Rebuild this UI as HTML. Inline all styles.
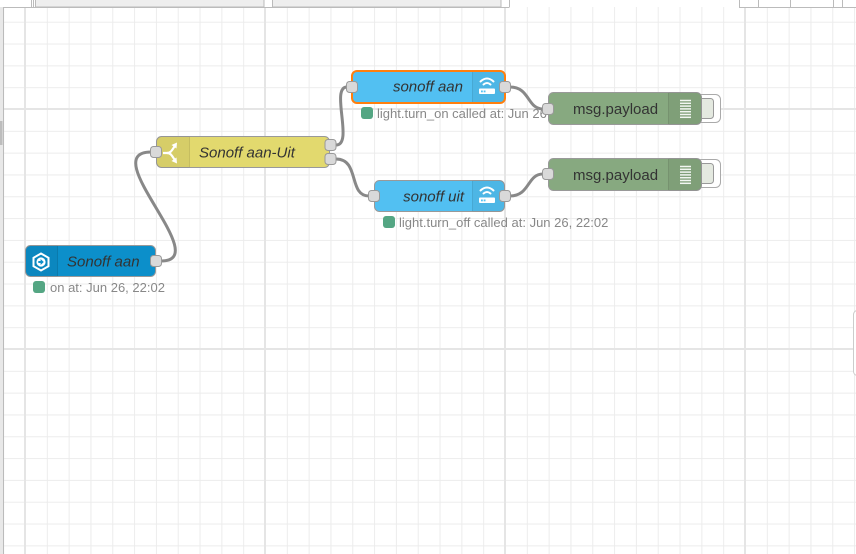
<!DOCTYPE html>
<html><head><meta charset="utf-8"><style>
html,body{margin:0;padding:0;background:#fff;}
svg{display:block;}
text{font-family:"Liberation Sans",sans-serif;}
</style></head><body>
<svg width="856" height="554" viewBox="0 0 856 554" xmlns="http://www.w3.org/2000/svg">
<defs>
<pattern id="minor" x="25" y="109" width="21.818" height="21.818" patternUnits="userSpaceOnUse">
<path d="M0 0.5 H21.818 M0.5 0 V21.818" stroke="#ececec" stroke-width="1" fill="none"/>
</pattern>
<pattern id="major" x="24" y="108" width="240" height="240" patternUnits="userSpaceOnUse">
<path d="M0 1 H240 M1 0 V240" stroke="#e5e5e5" stroke-width="2" fill="none"/>
</pattern>
</defs>
<rect x="0" y="0" width="856" height="554" fill="#fff"/>
<rect x="3" y="7" width="853" height="547" fill="url(#minor)"/>
<rect x="3" y="7" width="853" height="547" fill="url(#major)"/>

<!-- top bar -->
<rect x="0" y="0" width="856" height="7" fill="#fff"/>
<rect x="35.5" y="-1" width="228.5" height="8" fill="#eeeeee" stroke="#bbb"/>
<rect x="272.5" y="-1" width="228.5" height="8" fill="#eeeeee" stroke="#bbb"/>
<line x1="0" y1="7.5" x2="509" y2="7.5" stroke="#bbb"/>
<line x1="31.5" y1="0" x2="31.5" y2="7" stroke="#bbb"/>
<line x1="33.5" y1="0" x2="33.5" y2="7" stroke="#bbb"/>
<line x1="509.5" y1="0" x2="509.5" y2="7.5" stroke="#bbb"/>
<line x1="739" y1="7.5" x2="856" y2="7.5" stroke="#bbb"/>
<line x1="739.5" y1="0" x2="739.5" y2="7.5" stroke="#bbb"/>
<line x1="758.5" y1="0" x2="758.5" y2="7" stroke="#bbb"/>
<line x1="790.5" y1="0" x2="790.5" y2="7" stroke="#bbb"/>
<line x1="833.5" y1="0" x2="833.5" y2="7" stroke="#bbb"/>
<line x1="842.5" y1="0" x2="842.5" y2="7" stroke="#bbb"/>

<!-- left edge -->
<rect x="0" y="7" width="3" height="547" fill="#e8e8e8"/>
<line x1="3.5" y1="7" x2="3.5" y2="554" stroke="#bbb"/>
<rect x="0" y="121" width="2.5" height="24" fill="#bdbdbd"/>

<!-- right edge element -->
<rect x="853.5" y="310.5" width="10" height="65" rx="4" fill="#fff" stroke="#ccc"/>

<!-- wires -->
<g fill="none" stroke="#888" stroke-width="3">
<path d="M 161 261 C 215 261 95 152 151 152"/>
<path d="M 336 145 C 354 145 330 87 347 87"/>
<path d="M 336 159 C 360 159 348 196 369 196"/>
<path d="M 510 87 C 530 87 527 109 543 109"/>
<path d="M 510 196 C 530 196 527 174 543 174"/>
</g>

<!-- status -->
<rect x="33" y="281" width="12" height="12" rx="3" fill="#54a683"/>
<text x="50" y="292" font-size="13" fill="#888">on at: Jun 26, 22:02</text>
<rect x="361" y="107" width="12" height="12" rx="3" fill="#54a683"/>
<text x="377" y="118" font-size="13" fill="#888">light.turn_on called at: Jun 26, 22:02</text>
<rect x="383" y="216" width="12" height="12" rx="3" fill="#54a683"/>
<text x="399" y="227" font-size="13" fill="#888">light.turn_off called at: Jun 26, 22:02</text>

<!-- inject node -->
<rect x="25.5" y="245.5" width="130" height="31" rx="5" fill="#0c8fca" stroke="#999"/>
<path d="M30.5 245.5 H57.5 V276.5 H30.5 A5 5 0 0 1 25.5 271.5 V250.5 A5 5 0 0 1 30.5 245.5 Z" fill="rgba(0,0,0,0.05)"/>
<line x1="57.5" y1="246" x2="57.5" y2="276" stroke="rgba(0,0,0,0.12)"/>
<polygon points="41,253.5 48.5,257.8 48.5,266.2 41,270.5 33.5,266.2 33.5,257.8" fill="none" stroke="#fff" stroke-width="2"/>
<circle cx="41" cy="262" r="4.6" fill="#fff"/>
<path d="M38.3 261 H40.6 V259 L43.8 262 L40.6 265 V263 H38.3 Z" fill="#0c8fca"/>
<text x="67" y="266.5" font-size="15" font-style="italic" fill="#333">Sonoff aan</text>
<rect x="150.5" y="255.5" width="11" height="11" rx="3" fill="#d9d9d9" stroke="#999"/>

<!-- switch node -->
<rect x="156.5" y="136.5" width="173" height="31" rx="5" fill="#e2d96e" stroke="#999"/>
<path d="M161.5 136.5 H189.5 V167.5 H161.5 A5 5 0 0 1 156.5 162.5 V141.5 A5 5 0 0 1 161.5 136.5 Z" fill="rgba(0,0,0,0.05)"/>
<line x1="189.5" y1="137" x2="189.5" y2="167" stroke="rgba(0,0,0,0.1)"/>
<g fill="none" stroke="#fff" stroke-width="2.2">
<path d="M163 153 H167 C171 153 172 150 174.5 146.5"/>
<path d="M167 153 C171 153 172 156 174.5 159.5"/>
</g>
<polygon points="171.5,145 177,142.5 176.5,148.5" fill="#fff"/>
<polygon points="171.5,161 177,163.5 176.5,157.5" fill="#fff"/>
<text x="199" y="157.5" font-size="15" font-style="italic" fill="#333">Sonoff aan-Uit</text>
<rect x="150.5" y="146.5" width="11" height="11" rx="3" fill="#d9d9d9" stroke="#999"/>
<rect x="325" y="139.5" width="11" height="11" rx="3" fill="#d9d9d9" stroke="#999"/>
<rect x="325" y="153.5" width="11" height="11" rx="3" fill="#d9d9d9" stroke="#999"/>

<!-- sonoff aan (selected) -->
<rect x="352" y="71" width="153" height="32" rx="5" fill="#52c0f2" stroke="#ff7f0e" stroke-width="2"/>
<path d="M472.5 72 H500 A4 4 0 0 1 504 76 V98 A4 4 0 0 1 500 102 H472.5 Z" fill="rgba(0,0,0,0.05)"/>
<line x1="472.5" y1="72" x2="472.5" y2="102" stroke="rgba(0,0,0,0.1)"/>
<g fill="none" stroke="#fff" stroke-width="2" stroke-linecap="round">
<path d="M480.5 81.5 Q487 75.5 493.5 81.5"/>
<path d="M483.5 84.5 Q487 81.5 490.5 84.5"/>
</g>
<rect x="479" y="88.5" width="16" height="5.5" rx="1" fill="#fff"/>
<rect x="481" y="90.5" width="1.8" height="1.8" fill="#52c0f2"/>
<rect x="483.7" y="90.5" width="1.8" height="1.8" fill="#52c0f2"/>
<text x="463" y="91.5" font-size="15" font-style="italic" fill="#333" text-anchor="end">sonoff aan</text>
<rect x="346.5" y="81.5" width="11" height="11" rx="3" fill="#d9d9d9" stroke="#999"/>
<rect x="499.5" y="81.5" width="11" height="11" rx="3" fill="#d9d9d9" stroke="#999"/>

<!-- sonoff uit -->
<rect x="374.5" y="180.5" width="130" height="31" rx="5" fill="#52c0f2" stroke="#999"/>
<path d="M472.5 180.5 H499.5 A5 5 0 0 1 504.5 185.5 V206.5 A5 5 0 0 1 499.5 211.5 H472.5 Z" fill="rgba(0,0,0,0.05)"/>
<line x1="472.5" y1="181" x2="472.5" y2="211" stroke="rgba(0,0,0,0.1)"/>
<g fill="none" stroke="#fff" stroke-width="2" stroke-linecap="round">
<path d="M480.5 190.5 Q487 184.5 493.5 190.5"/>
<path d="M483.5 193.5 Q487 190.5 490.5 193.5"/>
</g>
<rect x="479" y="197.5" width="16" height="5.5" rx="1" fill="#fff"/>
<rect x="481" y="199.5" width="1.8" height="1.8" fill="#52c0f2"/>
<rect x="483.7" y="199.5" width="1.8" height="1.8" fill="#52c0f2"/>
<text x="464" y="201.5" font-size="15" font-style="italic" fill="#333" text-anchor="end">sonoff uit</text>
<rect x="368.5" y="190.5" width="11" height="11" rx="3" fill="#d9d9d9" stroke="#999"/>
<rect x="499.5" y="190.5" width="11" height="11" rx="3" fill="#d9d9d9" stroke="#999"/>

<!-- debug 1 -->
<rect x="696.5" y="94.5" width="24" height="28" rx="5" fill="#fff" stroke="#aaa"/>
<rect x="696.5" y="98.5" width="17" height="20" rx="3" fill="#e4e9e0" stroke="#999"/>
<rect x="548.5" y="92.5" width="153" height="32" rx="5" fill="#87a980" stroke="#999"/>
<path d="M668.5 92.5 H696.5 A5 5 0 0 1 701.5 97.5 V119.5 A5 5 0 0 1 696.5 124.5 H668.5 Z" fill="rgba(0,0,0,0.06)"/>
<line x1="668.5" y1="93" x2="668.5" y2="124" stroke="rgba(0,0,0,0.1)"/>
<g stroke="rgba(255,255,255,0.9)" stroke-width="1.5">
<line x1="680" y1="100.5" x2="691" y2="100.5"/>
<line x1="680" y1="103.3" x2="691" y2="103.3"/>
<line x1="680" y1="106.1" x2="691" y2="106.1"/>
<line x1="680" y1="108.9" x2="691" y2="108.9"/>
<line x1="680" y1="111.7" x2="691" y2="111.7"/>
<line x1="680" y1="114.5" x2="691" y2="114.5"/>
<line x1="680" y1="117.3" x2="691" y2="117.3"/>
</g>
<text x="573" y="114" font-size="15" fill="#333">msg.payload</text>
<rect x="542.5" y="103.5" width="11" height="11" rx="3" fill="#d9d9d9" stroke="#999"/>

<!-- debug 2 -->
<rect x="696.5" y="159.5" width="24" height="28" rx="5" fill="#fff" stroke="#aaa"/>
<rect x="696.5" y="163.5" width="17" height="20" rx="3" fill="#e4e9e0" stroke="#999"/>
<rect x="548.5" y="158.5" width="153" height="32" rx="5" fill="#87a980" stroke="#999"/>
<path d="M668.5 158.5 H696.5 A5 5 0 0 1 701.5 163.5 V185.5 A5 5 0 0 1 696.5 190.5 H668.5 Z" fill="rgba(0,0,0,0.06)"/>
<line x1="668.5" y1="159" x2="668.5" y2="190" stroke="rgba(0,0,0,0.1)"/>
<g stroke="rgba(255,255,255,0.9)" stroke-width="1.5">
<line x1="680" y1="166.5" x2="691" y2="166.5"/>
<line x1="680" y1="169.3" x2="691" y2="169.3"/>
<line x1="680" y1="172.1" x2="691" y2="172.1"/>
<line x1="680" y1="174.9" x2="691" y2="174.9"/>
<line x1="680" y1="177.7" x2="691" y2="177.7"/>
<line x1="680" y1="180.5" x2="691" y2="180.5"/>
<line x1="680" y1="183.3" x2="691" y2="183.3"/>
</g>
<text x="573" y="180" font-size="15" fill="#333">msg.payload</text>
<rect x="542.5" y="168.5" width="11" height="11" rx="3" fill="#d9d9d9" stroke="#999"/>
</svg>
</body></html>
